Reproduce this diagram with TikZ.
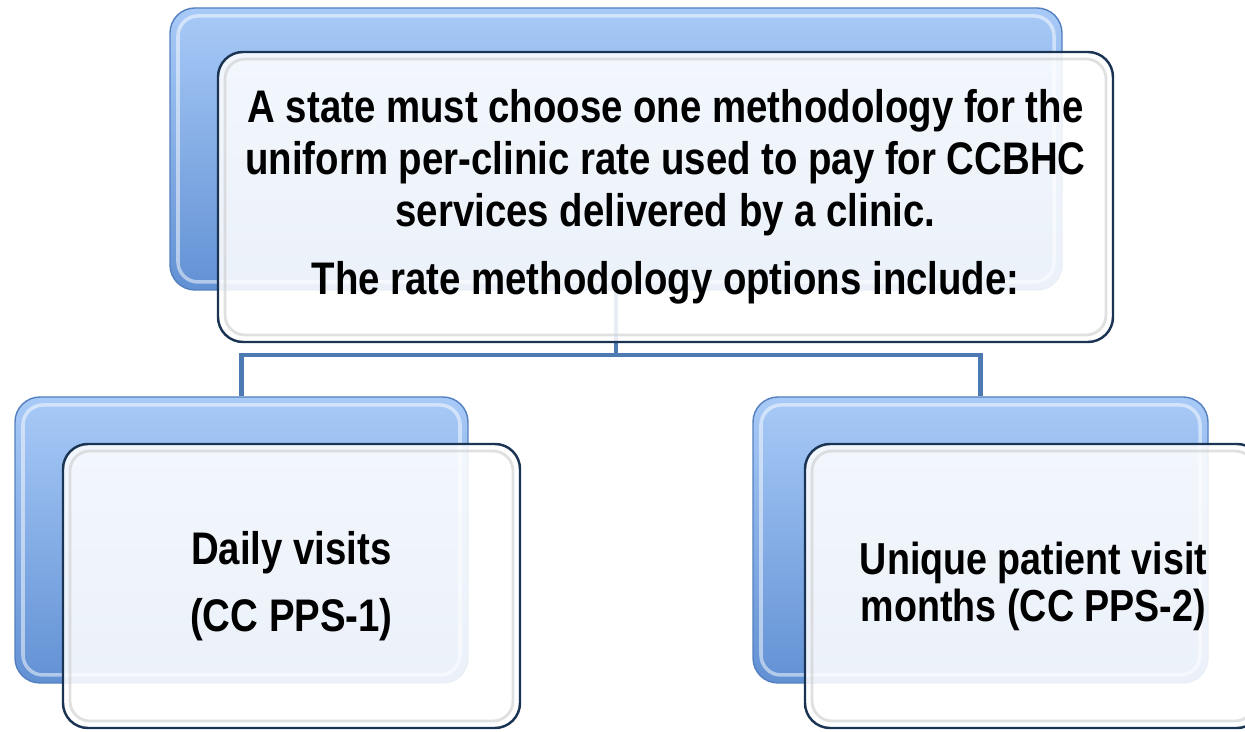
\documentclass[tikz,border=0pt]{standalone}
\usepackage{fontspec}
\setmainfont{Liberation Sans}[FakeStretch=0.84]
\usetikzlibrary{positioning,calc}
\definecolor{backtop}{RGB}{168,202,247}
\definecolor{backbottom}{RGB}{98,145,212}
\definecolor{backline}{RGB}{84,128,192}
\definecolor{frontline}{RGB}{27,52,84}
\definecolor{linkcolor}{RGB}{78,122,180}

\tikzset{
  backbox/.style={
    draw=backline, line width=0.8pt, rounded corners=0.5cm,
    top color=backtop, bottom color=backbottom, inner sep=0pt,
    path picture={
      \draw[white, opacity=0.5, line width=2pt, rounded corners=0.4cm]
        ([shift={(0.16,-0.16)}]path picture bounding box.north west) rectangle
        ([shift={(-0.16,0.16)}]path picture bounding box.south east);
    }
  },
  frontbox/.style={
    draw=frontline, line width=1.4pt, rounded corners=0.5cm,
    fill=white, fill opacity=0.88, text opacity=1, inner sep=0pt,
    align=center,
    path picture={
      \draw[gray!40, opacity=0.6, line width=1.6pt, rounded corners=0.4cm]
        ([shift={(0.14,-0.14)}]path picture bounding box.north west) rectangle
        ([shift={(-0.14,0.14)}]path picture bounding box.south east);
    }
  },
  link/.style={draw=linkcolor, line width=2.8pt}
}

\begin{document}
\begin{tikzpicture}

\clip (0,0) rectangle (24.9,14.64);
\fill[white] (0,0) rectangle (24.9,14.64);

% -------- Back boxes --------
\node[backbox, minimum width=17.84cm, minimum height=5.64cm] (topback) at (12.32,11.66) {};
\node[backbox, minimum width=9.06cm, minimum height=5.72cm] (leftback) at (4.83,3.84) {};
\node[backbox, minimum width=9.1cm, minimum height=5.72cm] (rightback) at (19.61,3.84) {};

% -------- Connectors --------
\coordinate (fork) at (12.32,7.54);
\draw[link] (topback.south) -- (fork) -| (leftback.north);
\draw[link] (fork) -| (rightback.north);

% -------- Top box (main question) --------
\node[
frontbox,
minimum width=17.9cm,
minimum height=5.8cm,
font=\fontsize{26}{29.6}\selectfont\bfseries
] (topfront) at (13.31,10.7)
{A state must choose one methodology for the\\
uniform per-clinic rate used to pay for CCBHC\\
services delivered by a clinic.\\[9pt]
The rate methodology options include:};

% -------- Option boxes --------
\node[
frontbox,
minimum width=9.14cm,
minimum height=5.68cm,
font=\fontsize{26}{38}\selectfont\bfseries
] (leftfront) at (5.83,2.92)
{Daily visits\\(CC PPS-1)};

\node[
frontbox,
minimum width=9.14cm,
minimum height=5.68cm,
font=\fontsize{25.5}{26.7}\selectfont\bfseries
] (rightfront) at (20.67,2.92)
{Unique patient visit\\months (CC PPS-2)};

\end{tikzpicture}
\end{document}
